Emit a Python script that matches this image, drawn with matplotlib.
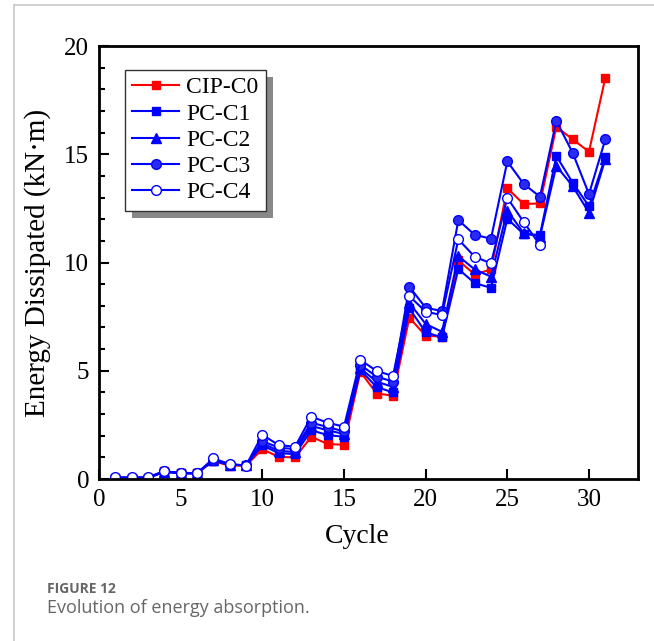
import numpy as np
import matplotlib
matplotlib.use("Agg")
import matplotlib.pyplot as plt
from matplotlib.ticker import MultipleLocator
from matplotlib.lines import Line2D
from matplotlib.patches import Rectangle

cycles = list(range(1, 32))

cip_c0 = [0.05, 0.05, 0.05, 0.35, 0.28, 0.28, 0.82, 0.62, 0.62, 1.38, 1.02, 1.0,
          1.95, 1.62, 1.58, 4.95, 3.95, 3.85, 7.45, 6.62, 6.58, 10.1, 9.45, 9.68,
          13.43, 12.7, 12.73, 16.27, 15.69, 15.12, 18.53]
pc_c1 = [0.05, 0.05, 0.05, 0.33, 0.27, 0.27, 0.85, 0.65, 0.64, 1.55, 1.2, 1.15,
         2.25, 2.03, 1.95, 5.03, 4.25, 4.0, 7.88, 6.78, 6.54, 9.7, 9.05, 8.83,
         12.02, 11.32, 11.27, 14.92, 13.69, 12.6, 14.86]
pc_c2 = [0.05, 0.05, 0.05, 0.34, 0.27, 0.27, 0.88, 0.66, 0.64, 1.65, 1.3, 1.25,
         2.45, 2.25, 2.08, 5.11, 4.5, 4.25, 8.14, 7.16, 6.8, 10.3, 9.68, 9.35,
         12.4, 11.36, 11.2, 14.46, 13.53, 12.3, 14.77]
pc_c3 = [0.06, 0.06, 0.06, 0.36, 0.27, 0.27, 0.9, 0.67, 0.63, 1.75, 1.45, 1.38,
         2.6, 2.4, 2.2, 5.27, 4.73, 4.5, 8.88, 7.91, 7.76, 11.96, 11.28, 11.1,
         14.67, 13.63, 13.04, 16.54, 15.07, 13.16, 15.69]
pc_c4 = [0.08, 0.08, 0.08, 0.37, 0.26, 0.26, 0.95, 0.69, 0.62, 2.04, 1.57, 1.49,
         2.88, 2.6, 2.42, 5.5, 4.99, 4.76, 8.45, 7.73, 7.57, 11.07, 10.27, 9.96,
         12.99, 11.87, 10.81]

labels = ["CIP-C0", "PC-C1", "PC-C2", "PC-C3", "PC-C4"]

plt.rcParams["font.family"] = ["Liberation Serif", "DejaVu Serif"]

fig = plt.figure(figsize=(6.54, 6.41), dpi=100)
ax = fig.add_axes([0.1514, 0.2527, 0.8241, 0.6755])

red, blue = "#ff0000", "#0000ff"
ax.plot(cycles, cip_c0, color=red, marker="s", ms=6, lw=1.5, label=labels[0])
ax.plot(cycles, pc_c1, color=blue, marker="s", ms=6, lw=1.5, label=labels[1])
ax.plot(cycles, pc_c2, color=blue, marker="^", ms=7, lw=1.5, label=labels[2])
ax.plot(cycles, pc_c3, color=blue, marker="o", ms=7, lw=1.5, mfc="#2a2af0",
        mec=blue, label=labels[3])
ax.plot(cycles[:len(pc_c4)], pc_c4, color=blue, marker="o", ms=7, lw=1.5,
        mfc="white", mec=blue, label=labels[4])

ax.set_xlim(0, 33)
ax.set_ylim(0, 20)
ax.xaxis.set_major_locator(MultipleLocator(5))
ax.yaxis.set_major_locator(MultipleLocator(5))
ax.yaxis.set_minor_locator(MultipleLocator(1))
ax.tick_params(which="both", direction="in", top=False, right=False,
               labelsize=18, width=1.5)
ax.tick_params(axis="x", pad=7)
ax.tick_params(axis="y", pad=7)
ax.tick_params(which="major", length=7)
ax.tick_params(which="minor", length=4)
for s in ax.spines.values():
    s.set_linewidth(2)
ax.set_xlabel("Cycle", fontsize=20)
ax.set_ylabel("Energy Dissipated (kN·m)", fontsize=21)
ax.xaxis.set_label_coords(0.48, -0.105)
ax.yaxis.set_label_coords(-0.09, 0.5)

leg = ax.legend(loc="upper left", bbox_to_anchor=(0.048, 0.945), fontsize=17,
                frameon=True, fancybox=False, shadow=False,
                edgecolor="#333333", handlelength=2.0, borderpad=0.3,
                labelspacing=0.2, handletextpad=0.3, borderaxespad=0,
                framealpha=1)
leg.get_frame().set_linewidth(1.0)
leg.set_zorder(6)

# offset gray shadow behind the legend box (drawn inside the axes, under the legend)
fig.canvas.draw()
bb = leg.get_frame().get_window_extent()
inv = ax.transAxes.inverted()
off = 7
(x0, y0), (x1, y1) = inv.transform([(bb.x0 + off, bb.y0 - off), (bb.x1 + off, bb.y1 - off)])
ax.add_patch(Rectangle((x0, y0), x1 - x0, y1 - y0, transform=ax.transAxes,
                       facecolor="#888888", edgecolor="none", zorder=5, clip_on=False))

# page frame and caption
fig.add_artist(Line2D([14 / 654, 14 / 654], [0, 1 - 4.5 / 641], color="#c8c8c8", lw=1.2))
fig.add_artist(Line2D([14 / 654, 1], [1 - 4.5 / 641, 1 - 4.5 / 641], color="#c8c8c8", lw=1.2))
fig.text(47 / 654, 1 - 589 / 641, "FIGURE 12", fontsize=10, fontweight="bold",
         color="#666666", family="Open Sans", va="center")
fig.text(47 / 654, 1 - 608 / 641, "Evolution of energy absorption.", fontsize=13,
         color="#666666", family="Open Sans", va="center")

fig.savefig("out.png", dpi=100)
